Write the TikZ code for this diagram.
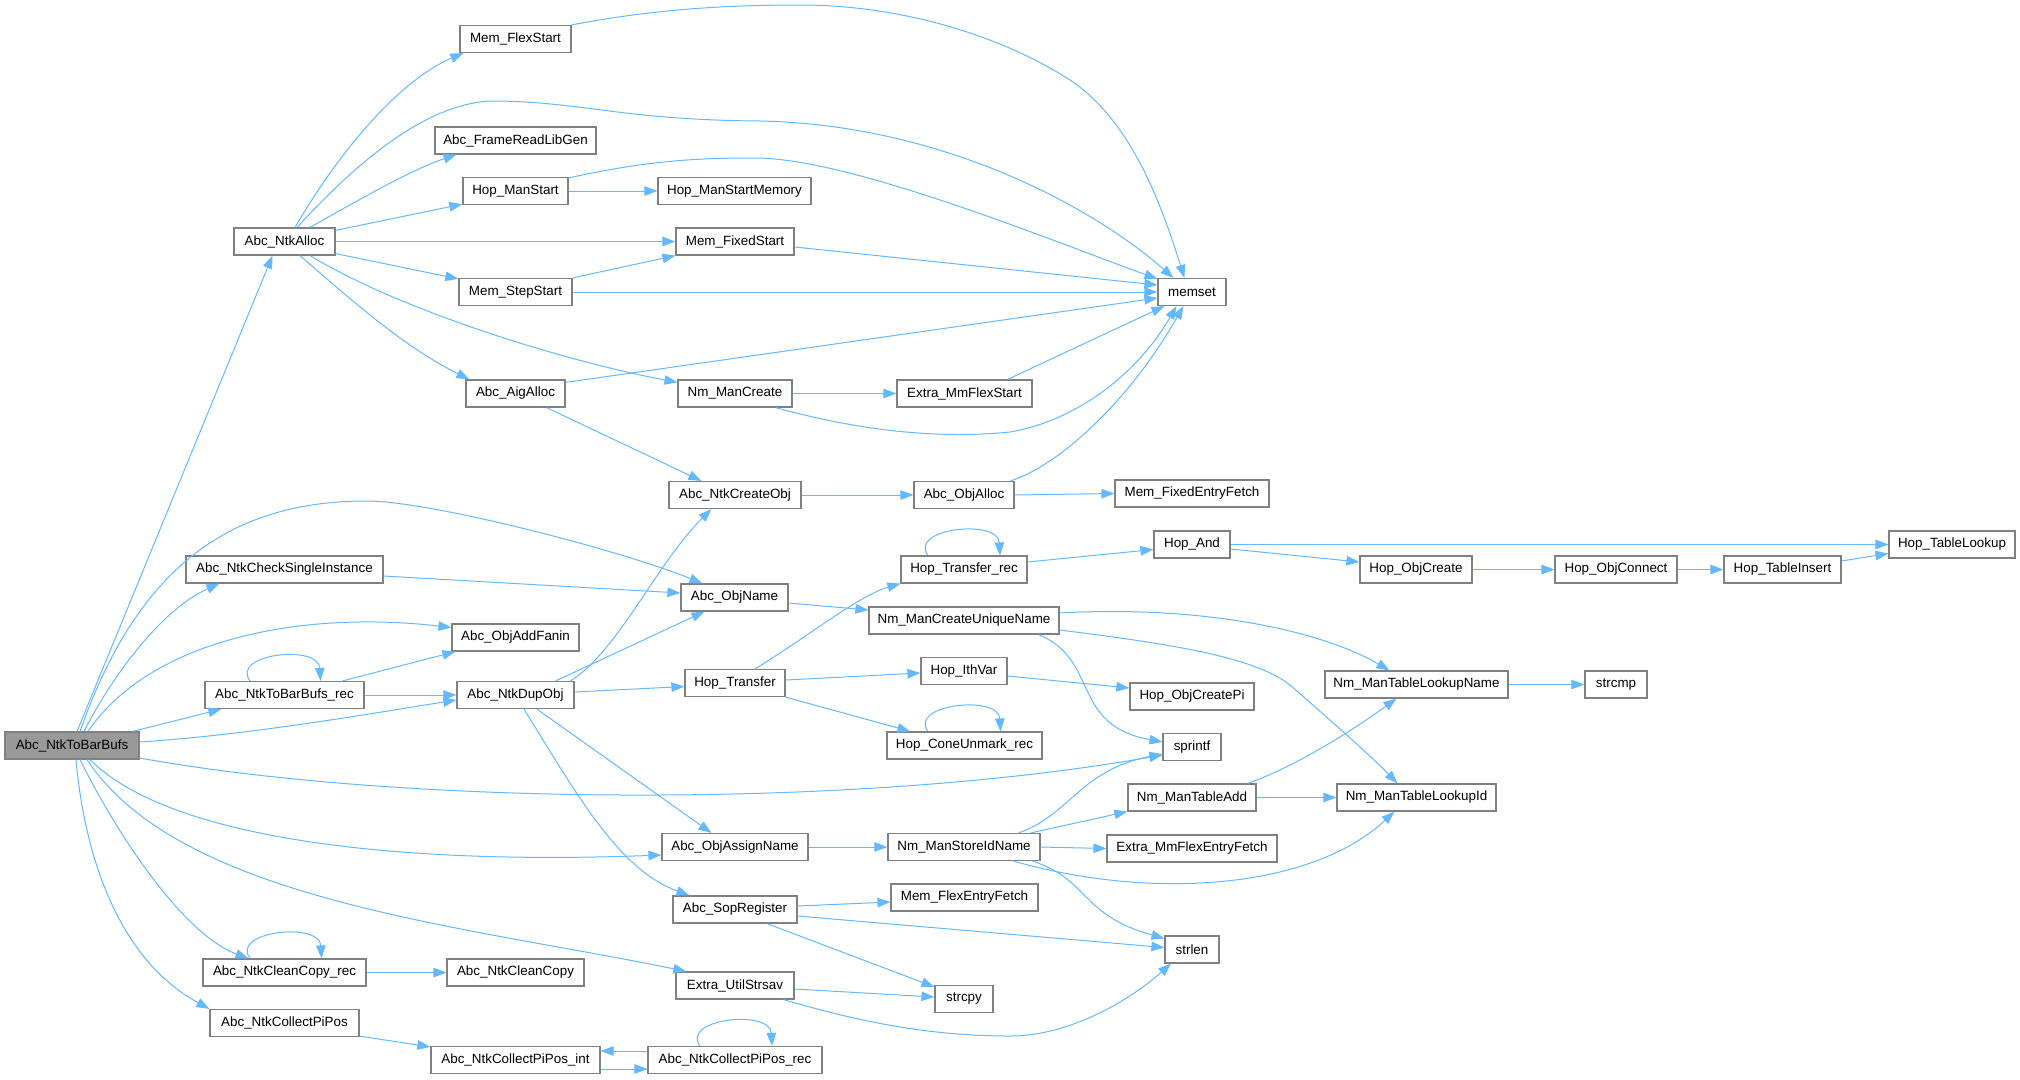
\documentclass[tikz,border=0pt]{standalone}
\usepackage{fontspec}
\setmainfont{Liberation Sans}
\usetikzlibrary{arrows.meta,calc}
\definecolor{edgeblue}{HTML}{63B8FF}
\definecolor{boxgray}{HTML}{808080}
\definecolor{rootfill}{HTML}{999999}
\begin{document}
\begin{tikzpicture}[x=1pt,y=-1pt,
  box/.style={draw=boxgray, line width=1.2pt, fill=white, minimum height=27pt, inner sep=0pt, font=\fontsize{13.4}{16}\selectfont, text=black},
  ln/.style={draw=edgeblue, line width=1pt, -{Triangle[length=13pt,width=9.5pt]}}]
\useasboundingbox (0,0) rectangle (2020,1079);
% nodes
\node[box,fill=rootfill,minimum width=134pt] (root) at (72,745.5) {Abc\_NtkToBarBufs};
\node[box,minimum width=101pt] (ntkalloc) at (284.5,241.5) {Abc\_NtkAlloc};
\node[box,minimum width=197pt] (checksingle) at (284.5,569.5) {Abc\_NtkCheckSingleInstance};
\node[box,minimum width=159pt] (tobarrec) at (284.5,695) {Abc\_NtkToBarBufs\_rec};
\node[box,minimum width=163pt] (cleancopyrec) at (284.5,972.5) {Abc\_NtkCleanCopy\_rec};
\node[box,minimum width=149pt] (collectpipos) at (284.5,1023) {Abc\_NtkCollectPiPos};
\node[box,minimum width=111pt] (flexstart) at (515.5,39) {Mem\_FlexStart};
\node[box,minimum width=161pt] (framelib) at (515.5,140.5) {Abc\_FrameReadLibGen};
\node[box,minimum width=105pt] (hopmanstart) at (515.5,191) {Hop\_ManStart};
\node[box,minimum width=113pt] (stepstart) at (515.5,292) {Mem\_StepStart};
\node[box,minimum width=99pt] (aigalloc) at (515.5,393.5) {Abc\_AigAlloc};
\node[box,minimum width=127pt] (addfanin) at (515.5,637.5) {Abc\_ObjAddFanin};
\node[box,minimum width=117pt] (dupobj) at (515.5,695) {Abc\_NtkDupObj};
\node[box,minimum width=137pt] (cleancopy) at (515.5,972.5) {Abc\_NtkCleanCopy};
\node[box,minimum width=169pt] (piposint) at (515.5,1060) {Abc\_NtkCollectPiPos\_int};
\node[box,minimum width=153pt] (hopmem) at (734.5,191) {Hop\_ManStartMemory};
\node[box,minimum width=118pt] (fixedstart) at (735,241.5) {Mem\_FixedStart};
\node[box,minimum width=114pt] (nmmancreate) at (735,393.5) {Nm\_ManCreate};
\node[box,minimum width=132pt] (createobj) at (735,495) {Abc\_NtkCreateObj};
\node[box,minimum width=107pt] (objname) at (734.5,597.5) {Abc\_ObjName};
\node[box,minimum width=100pt] (hoptransfer) at (735,683) {Hop\_Transfer};
\node[box,minimum width=146pt] (assignname) at (735,847) {Abc\_ObjAssignName};
\node[box,minimum width=124pt] (sopregister) at (735,909.5) {Abc\_SopRegister};
\node[box,minimum width=118pt] (utilstrsav) at (735,985.5) {Extra\_UtilStrsav};
\node[box,minimum width=174pt] (piposrec) at (735,1060) {Abc\_NtkCollectPiPos\_rec};
\node[box,minimum width=135pt] (mmflexstart) at (964.5,393.5) {Extra\_MmFlexStart};
\node[box,minimum width=100pt] (objalloc) at (964,495) {Abc\_ObjAlloc};
\node[box,minimum width=126pt] (transferrec) at (964,569.5) {Hop\_Transfer\_rec};
\node[box,minimum width=190pt] (uniquename) at (964,620.5) {Nm\_ManCreateUniqueName};
\node[box,minimum width=86pt] (ithvar) at (964,671) {Hop\_IthVar};
\node[box,minimum width=155pt] (coneunmark) at (964.5,745.5) {Hop\_ConeUnmark\_rec};
\node[box,minimum width=152pt] (storeid) at (964,847) {Nm\_ManStoreIdName};
\node[box,minimum width=147pt] (flexentry) at (964.5,897.5) {Mem\_FlexEntryFetch};
\node[box,minimum width=58pt] (strcpy) at (964,999) {strcpy};
\node[box,minimum width=68pt] (memset) at (1192,292) {memset};
\node[box,minimum width=154pt] (fixedentry) at (1192,493.5) {Mem\_FixedEntryFetch};
\node[box,minimum width=76pt] (hopand) at (1192,544.5) {Hop\_And};
\node[box,minimum width=124pt] (objcreatepi) at (1192,696.5) {Hop\_ObjCreatePi};
\node[box,minimum width=58pt] (sprintf) at (1192,747) {sprintf};
\node[box,minimum width=128pt] (tableadd) at (1192,797.5) {Nm\_ManTableAdd};
\node[box,minimum width=170pt] (mmflexentry) at (1192,848.5) {Extra\_MmFlexEntryFetch};
\node[box,minimum width=54pt] (strlen) at (1192,949.5) {strlen};
\node[box,minimum width=112pt] (objcreate) at (1416,569.5) {Hop\_ObjCreate};
\node[box,minimum width=183pt] (lookupname) at (1416.5,684.5) {Nm\_ManTableLookupName};
\node[box,minimum width=159pt] (lookupid) at (1416.5,797.5) {Nm\_ManTableLookupId};
\node[box,minimum width=122pt] (objconnect) at (1616,569.5) {Hop\_ObjConnect};
\node[box,minimum width=62pt] (strcmp) at (1616,684.5) {strcmp};
\node[box,minimum width=117pt] (tableinsert) at (1782.5,569.5) {Hop\_TableInsert};
\node[box,minimum width=126pt] (tablelookup) at (1952,544.5) {Hop\_TableLookup};
% edges from root
\draw[ln] ($(root.north)+(5,0)$) -- ($(ntkalloc.south)+(-12,0)$);
\draw[ln] ($(root.north)+(8,0)$) .. controls (140,560) and (237,501) .. (367,501) .. controls (430,501) and (620,550) .. ($(objname.north west)+(22,0)$);
\draw[ln] ($(root.north)+(12,0)$) .. controls (110,680) and (160,610) .. ($(checksingle.south west)+(34,0)$);
\draw[ln] ($(root.north)+(16,0)$) .. controls (150,640) and (300,610) .. ($(addfanin.west)+(0,-10)$);
\draw[ln] ($(root.north east)+(-7,0)$) -- ($(tobarrec.south west)+(17,0)$);
\draw[ln] ($(root.east)+(0,-3.5)$) .. controls (250,735) and (380,712) .. ($(dupobj.west)+(0,5)$);
\draw[ln] ($(root.east)+(0,12.5)$) .. controls (400,805) and (850,810) .. ($(sprintf.west)+(0,8)$);
\draw[ln] ($(root.south)+(18,0)$) .. controls (170,840) and (400,865) .. ($(assignname.west)+(0,8)$);
\draw[ln] ($(root.south)+(15,0)$) .. controls (180,900) and (460,925) .. ($(utilstrsav.north west)+(11,0)$);
\draw[ln] ($(root.south)+(8,0)$) .. controls (120,840) and (185,935) .. ($(cleancopyrec.north west)+(46,0)$);
\draw[ln] ($(root.south)+(4,0)$) .. controls (85,860) and (120,960) .. (collectpipos.north west);
% from Abc_NtkAlloc
\draw[ln] ($(ntkalloc.north)+(10.5,0)$) .. controls (340,150) and (400,80) .. ($(flexstart.south west)+(4,0)$);
\draw[ln] ($(ntkalloc.north)+(12.5,0)$) .. controls (350,170) and (420,105) .. (490,101) .. controls (580,101) and (620,120) .. (760,121) .. controls (950,125) and (1100,213) .. ($(memset.north west)+(16,0)$);
\draw[ln] ($(ntkalloc.north)+(25.5,0)$) .. controls (350,205) and (410,170) .. ($(framelib.south west)+(22,0)$);
\draw[ln] ($(ntkalloc.north east)+(0,3)$) -- ($(hopmanstart.south west)+(0,-1)$);
\draw[ln] (ntkalloc.east) -- (fixedstart.west);
\draw[ln] ($(ntkalloc.south east)+(0,-2)$) -- ($(stepstart.north west)+(0,1)$);
\draw[ln] ($(ntkalloc.south)+(25.5,0)$) .. controls (400,310) and (560,360) .. ($(nmmancreate.north west)+(0,3)$);
\draw[ln] ($(ntkalloc.south)+(15.5,0)$) .. controls (340,290) and (400,345) .. ($(aigalloc.north west)+(4,0)$);
% column 3
\draw[ln] (hopmanstart.east) -- (hopmem.west);
\draw[ln] ($(hopmanstart.north east)+(0,1)$) .. controls (650,160) and (700,158) .. (755,158) .. controls (850,158) and (1050,240) .. ($(memset.north west)+(0,1)$);
\draw[ln] ($(fixedstart.east)+(0,5.5)$) -- ($(memset.west)+(0,-7)$);
\draw[ln] (stepstart.north east) -- (fixedstart.south west);
\draw[ln] (stepstart.east) -- (memset.west);
\draw[ln] (flexstart.north east) .. controls (650,10) and (720,5) .. (800,5) .. controls (900,5) and (1000,35) .. (1070,80) .. controls (1130,120) and (1160,200) .. ($(memset.north west)+(27,0)$);
\draw[ln] ($(aigalloc.north east)+(0,3)$) -- ($(memset.west)+(0,6)$);
\draw[ln] ($(aigalloc.south)+(31,0)$) -- ($(createobj.north west)+(33,0)$);
\draw[ln] (nmmancreate.east) -- (mmflexstart.west);
\draw[ln] ($(nmmancreate.south east)+(-17,0)$) .. controls (850,428) and (930,440) .. (1010,432) .. controls (1080,420) and (1140,370) .. ($(memset.south west)+(19,0)$);
\draw[ln] ($(mmflexstart.north east)+(-25,0)$) -- ($(memset.south west)+(7,0)$);
\draw[ln] ($(objalloc.north east)+(-4,0)$) .. controls (1060,465) and (1130,400) .. ($(memset.south west)+(26,0)$);
\draw[ln] (createobj.east) -- (objalloc.west);
\draw[ln] (objalloc.east) -- (fixedentry.west);
\draw[ln] ($(checksingle.east)+(0,6.5)$) -- ($(objname.west)+(0,-4.5)$);
\draw[ln] ($(tobarrec.north)+(-34.5,0)$) .. controls +(-20,-27) and +(-2,-37) .. ($(tobarrec.north)+(36,0)$);
\draw[ln] ($(tobarrec.north east)+(-22,0)$) -- ($(addfanin.south west)+(4,0)$);
\draw[ln] (tobarrec.east) -- (dupobj.west);
\draw[ln] ($(dupobj.north east)+(-4,0)$) .. controls (619,650) and (656,564) .. ($(createobj.south west)+(43,0)$);
\draw[ln] ($(dupobj.north east)+(-19,0)$) -- ($(objname.south west)+(24,0)$);
\draw[ln] ($(dupobj.east)+(0,-3)$) -- ($(hoptransfer.west)+(0,3.5)$);
\draw[ln] ($(dupobj.south)+(21.5,0)$) -- ($(assignname.north west)+(50,0)$);
\draw[ln] ($(dupobj.south)+(8.5,0)$) .. controls (580,800) and (620,870) .. ($(sopregister.north west)+(17,0)$);
% column 4
\draw[ln] ($(objname.east)+(0,5.5)$) -- ($(uniquename.west)+(0,-10.5)$);
\draw[ln] ($(hoptransfer.north)+(20,0)$) .. controls (810,635) and (860,595) .. (transferrec.south west);
\draw[ln] ($(hoptransfer.east)+(0,-3)$) -- ($(ithvar.west)+(0,2)$);
\draw[ln] (hoptransfer.south east) -- ($(coneunmark.north west)+(24,0)$);
\draw[ln] (assignname.east) -- (storeid.west);
\draw[ln] ($(sopregister.east)+(0,-3.5)$) -- ($(flexentry.west)+(0,4.5)$);
\draw[ln] ($(sopregister.east)+(0,6.5)$) -- ($(strlen.west)+(0,-2)$);
\draw[ln] ($(sopregister.south)+(32,0)$) -- ($(strcpy.north west)+(0,2)$);
\draw[ln] ($(utilstrsav.east)+(0,3.5)$) -- ($(strcpy.west)+(0,-2)$);
\draw[ln] ($(utilstrsav.south east)+(-11,0)$) .. controls (860,1022) and (930,1036) .. (1010,1036) .. controls (1070,1036) and (1130,1000) .. ($(strlen.south)+(-21,0)$);
\draw[ln] ($(cleancopyrec.north)+(-34.5,0)$) .. controls +(-20,-27) and +(-2,-37) .. ($(cleancopyrec.north)+(37,0)$);
\draw[ln] (cleancopyrec.east) -- (cleancopy.west);
\draw[ln] ($(collectpipos.south east)+(0,-1)$) -- ($(piposint.north west)+(0,1)$);
\draw[ln] ($(piposint.east)+(0,9)$) -- ($(piposrec.west)+(0,9)$);
\draw[ln] ($(piposrec.west)+(0,-9)$) -- ($(piposint.east)+(0,-9)$);
\draw[ln] ($(piposrec.north)+(-35,0)$) .. controls +(-20,-27) and +(-2,-37) .. ($(piposrec.north)+(37,0)$);
% column 5
\draw[ln] ($(transferrec.north)+(-36,0)$) .. controls +(-20,-27) and +(-2,-37) .. ($(transferrec.north)+(36,0)$);
\draw[ln] ($(transferrec.east)+(0,-7.5)$) -- ($(hopand.west)+(0,5)$);
\draw[ln] ($(ithvar.east)+(0,5)$) -- ($(objcreatepi.west)+(0,-8.5)$);
\draw[ln] ($(coneunmark.north)+(-36.5,0)$) .. controls +(-20,-27) and +(-2,-37) .. ($(coneunmark.north)+(36,0)$);
\draw[ln] ($(uniquename.east)+(0,-7.5)$) .. controls (1200,605) and (1320,630) .. ($(lookupname.north west)+(65,0)$);
\draw[ln] ($(uniquename.east)+(0,9.5)$) .. controls (1180,645) and (1255,658) .. (1290,685) .. controls (1330,720) and (1370,755) .. ($(lookupid.north west)+(61,0)$);
\draw[ln] ($(uniquename.south east)+(-21,0)$) .. controls (1100,660) and (1070,725) .. ($(sprintf.west)+(0,-5)$);
\draw[ln] ($(storeid.north east)+(-22,0)$) .. controls (1070,815) and (1080,770) .. ($(sprintf.west)+(0,7)$);
\draw[ln] ($(storeid.north east)+(-10,0)$) -- (tableadd.south west);
\draw[ln] (storeid.east) -- (mmflexentry.west);
\draw[ln] ($(storeid.south east)+(-27,0)$) .. controls (1150,900) and (1310,890) .. ($(lookupid.south west)+(58,0)$);
\draw[ln] ($(storeid.south east)+(-8,0)$) .. controls (1090,880) and (1080,915) .. ($(strlen.north west)+(0,3)$);
% column 6+
\draw[ln] (hopand.east) -- (tablelookup.west);
\draw[ln] ($(hopand.east)+(0,4.5)$) -- ($(objcreate.west)+(0,-7.5)$);
\draw[ln] ($(tableadd.north east)+(-9,0)$) .. controls (1300,765) and (1360,725) .. ($(lookupname.south west)+(72,0)$);
\draw[ln] (tableadd.east) -- (lookupid.west);
\draw[ln] (objcreate.east) -- (objconnect.west);
\draw[ln] (objconnect.east) -- (tableinsert.west);
\draw[ln] ($(tableinsert.east)+(0,-8.5)$) -- ($(tablelookup.west)+(0,9)$);
\draw[ln] (lookupname.east) -- (strcmp.west);
\end{tikzpicture}
\end{document}
